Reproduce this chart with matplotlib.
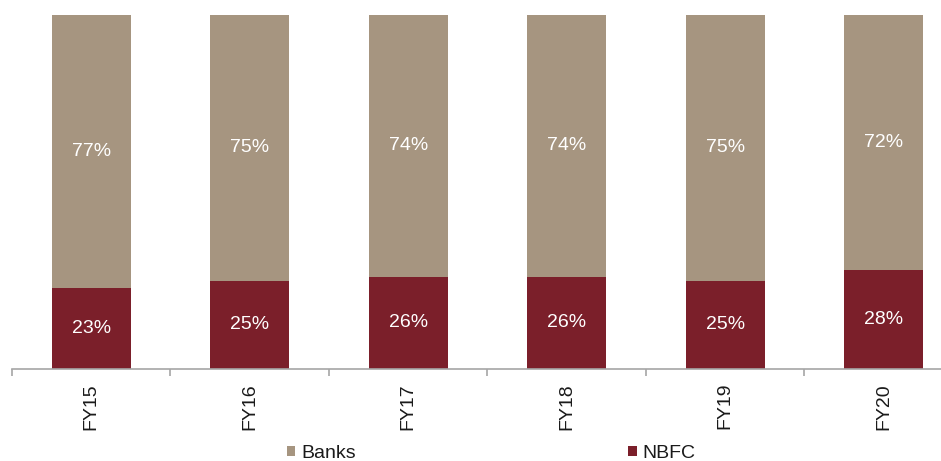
import numpy as np
import matplotlib
matplotlib.use("Agg")
import matplotlib.pyplot as plt
from matplotlib.patches import Patch

plt.rcParams['font.family'] = ['Liberation Sans', 'DejaVu Sans']

# --- data ---
years = ['FY15', 'FY16', 'FY17', 'FY18', 'FY19', 'FY20']
nbfc = [23, 25, 26, 26, 25, 28]
banks = [77, 75, 74, 74, 75, 72]

banks_color = '#A69580'
nbfc_color = '#7B1F2A'
axis_color = '#A6A6A6'

fig = plt.figure(figsize=(9.41, 4.61), dpi=100)
# axes runs a bit past the right edge, like the cropped original
ax = fig.add_axes([12 / 941, 92 / 461, 951 / 941, 354 / 461])

x = np.arange(len(years))
ax.bar(x, nbfc, width=0.5, color=nbfc_color, edgecolor='none')
ax.bar(x, banks, width=0.5, bottom=nbfc, color=banks_color, edgecolor='none')

# value labels in the middle of each segment
for i in range(len(years)):
    ax.text(x[i], nbfc[i] / 2, f"{nbfc[i]}%", ha='center', va='center',
            color='white', fontsize=14)
    ax.text(x[i], nbfc[i] + banks[i] / 2, f"{banks[i]}%", ha='center', va='center',
            color='white', fontsize=14)

ax.set_xlim(-0.5, len(years) - 0.5)
ax.set_ylim(0, 100)

for s in ['top', 'right', 'left']:
    ax.spines[s].set_visible(False)
ax.spines['bottom'].set_color(axis_color)
ax.spines['bottom'].set_linewidth(1.2)
ax.set_yticks([])

# labels at centres, tick marks at category borders
ax.set_xticks(x)
ax.set_xticklabels(years, rotation=90, fontsize=14, color='#1a1a1a', va='top')
ax.tick_params(axis='x', which='major', length=0, pad=10)
ax.set_xticks(np.arange(len(years) + 1) - 0.5, minor=True)
ax.tick_params(axis='x', which='minor', length=5, color=axis_color, width=1.2)

handles = [Patch(facecolor=banks_color, label='Banks'),
           Patch(facecolor=nbfc_color, label='NBFC')]
fig.legend(handles=handles, loc='center', bbox_to_anchor=(0.522, 0.017), ncol=2,
           frameon=False, fontsize=14, handlelength=0.45, handleheight=0.45,
           handletextpad=0.3, columnspacing=14.0, labelcolor='#1a1a1a',
           borderpad=0)

fig.savefig('out.png', dpi=100)
